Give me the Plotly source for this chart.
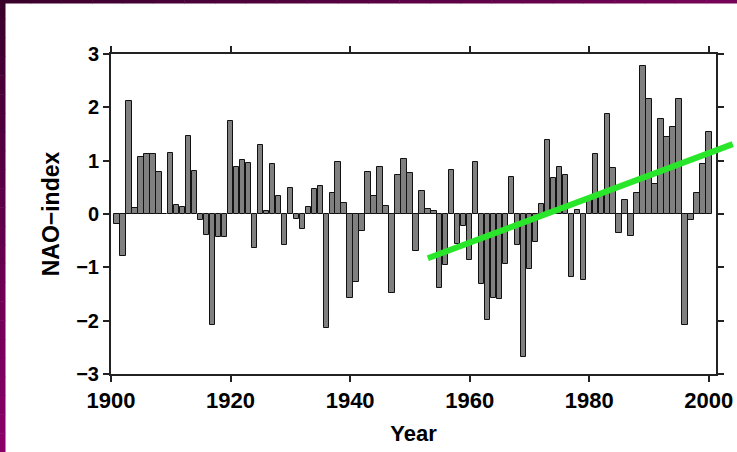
import plotly.graph_objects as go

# Winter NAO index, one bar per year 1901-2000
years = list(range(1901, 2001))
nao_index = [
    -0.18, -0.79, 2.12, 0.12, 1.07, 1.12, 1.12, 0.79, 0.00, 1.14,   # 1901-1910
    0.16, 0.13, 1.47, 0.80, -0.12, -0.39, -2.09, -0.44, -0.44, 1.74,  # 1911-1920
    0.88, 1.02, 0.95, -0.63, 1.30, 0.06, 0.94, 0.34, -0.58, 0.49,     # 1921-1930
    -0.10, -0.28, 0.14, 0.46, 0.53, -2.14, 0.39, 0.97, 0.20, -1.58,   # 1931-1940
    -1.28, -0.31, 0.79, 0.33, 0.89, 0.15, -1.49, 0.73, 1.03, 0.77,    # 1941-1950
    -0.70, 0.44, 0.09, 0.06, -1.39, -0.96, 0.83, -0.56, -0.22, -0.86, # 1951-1960
    0.97, -1.31, -1.98, -1.57, -1.59, -0.94, 0.69, -0.58, -2.68, -1.04,  # 1961-1970
    -0.53, 0.18, 1.38, 0.67, 0.88, 0.74, -1.18, 0.08, -1.24, 0.30,    # 1971-1980
    1.12, 0.40, 1.87, 0.87, -0.35, 0.26, -0.42, 0.39, 2.77, 2.16,     # 1981-1990
    0.56, 1.79, 1.45, 1.64, 2.16, -2.08, -0.12, 0.39, 0.93, 1.53,     # 1991-2000
]

# Linear trend drawn over the second half of the century
trend_years = [1953, 2004]
trend_values = [-0.83, 1.31]

x_ticks = [1900, 1920, 1940, 1960, 1980, 2000]
y_ticks = [-3, -2, -1, 0, 1, 2, 3]

X_MIN, X_MAX = 1900, 2001.2
Y_MIN, Y_MAX = -3, 3

W, H = 737, 452
M_L, M_R, M_T, M_B = 111, 21, 54, 78
PLOT_W = W - M_L - M_R
PLOT_H = H - M_T - M_B


def px_to_paper_x(px):
    return (px - M_L) / PLOT_W


def px_to_paper_y(py):
    return (H - M_B - py) / PLOT_H


def year_to_paper(yr):
    return (yr - X_MIN) / (X_MAX - X_MIN)


fig = go.Figure()
fig.add_trace(go.Bar(
    x=years, y=nao_index, width=0.9,
    marker=dict(color="#808080", line=dict(color="#111111", width=1)),
    showlegend=False,
))

shapes = []

# purple slide frame: gradient strips along the top and left edges
def lerp(c1, c2, t):
    return "rgb(%d,%d,%d)" % tuple(round(a + (b - a) * t) for a, b in zip(c1, c2))

n = 24
dark, mid, bright = (58, 0, 44), (120, 4, 90), (140, 0, 108)
for i in range(n):
    t0, t1 = i / n, (i + 1) / n
    shapes.append(dict(
        type="rect", xref="paper", yref="paper", layer="above",
        x0=px_to_paper_x(W * t0), x1=px_to_paper_x(W * t1 + 0.5),
        y0=px_to_paper_y(3.5), y1=px_to_paper_y(0),
        fillcolor=lerp(dark, mid, t0), line=dict(width=0),
    ))
    shapes.append(dict(
        type="rect", xref="paper", yref="paper", layer="above",
        x0=px_to_paper_x(0), x1=px_to_paper_x(5.5),
        y0=px_to_paper_y(H * t1 + 0.5), y1=px_to_paper_y(H * t0),
        fillcolor=lerp(dark, bright, t0), line=dict(width=0),
    ))

# green trend line, allowed to run past the right frame
shapes.append(dict(
    type="line", xref="paper", yref="y", layer="above",
    x0=year_to_paper(trend_years[0]), y0=trend_values[0],
    x1=year_to_paper(trend_years[1]), y1=trend_values[1],
    line=dict(color="#2ae62a", width=6),
))

font_family = "Liberation Sans, Arial, sans-serif"

fig.update_layout(
    width=W, height=H,
    margin=dict(l=M_L, r=M_R, t=M_T, b=M_B, autoexpand=False),
    paper_bgcolor="white", plot_bgcolor="white",
    bargap=0,
    shapes=shapes,
    xaxis=dict(
        range=[X_MIN, X_MAX], tickvals=x_ticks, ticktext=[str(v) for v in x_ticks],
        ticks="outside", ticklen=6, tickwidth=1.5, tickcolor="#222",
        showline=True, linewidth=2, linecolor="#222", mirror="ticks",
        showgrid=False, zeroline=False, automargin=False,
        tickfont=dict(family=font_family, size=22, color="black", weight="bold"),
        title=dict(text="Year", standoff=13,
                   font=dict(family=font_family, size=22, color="black", weight="bold")),
    ),
    yaxis=dict(
        range=[Y_MIN, Y_MAX], tickvals=y_ticks,
        ticks="outside", ticklen=6, tickwidth=1.5, tickcolor="#222",
        showline=True, linewidth=2, linecolor="#222", mirror="ticks",
        showgrid=False, zeroline=False, automargin=False,
        tickfont=dict(family=font_family, size=20, color="black", weight="bold"),
        title=dict(text="NAO\u2212index", standoff=10,
                   font=dict(family=font_family, size=23, color="black", weight="bold")),
    ),
)

fig.write_html("out.html")
